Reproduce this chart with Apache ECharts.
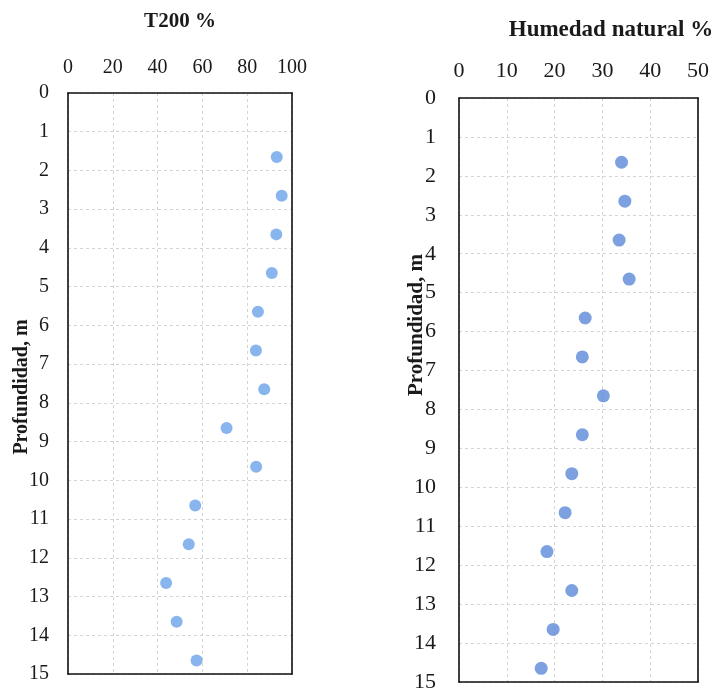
<!DOCTYPE html>
<html>
<head>
<meta charset="utf-8">
<script src="https://cdn.jsdelivr.net/npm/echarts@6/dist/echarts.min.js"></script>
<style>html,body{margin:0;padding:0;background:#fff;}#c{width:726px;height:695px;}</style>
</head>
<body>
<div id="c"></div>
<script>
const depths = [1.65, 2.65, 3.65, 4.65, 5.65, 6.65, 7.65, 8.65, 9.65, 10.65, 11.65, 12.65, 13.65, 14.65];
const t200 = [93.2, 95.4, 93.0, 91.0, 84.8, 83.9, 87.6, 70.8, 84.0, 56.8, 53.9, 43.8, 48.5, 57.4];
const humedad = [34.0, 34.7, 33.5, 35.6, 26.4, 25.8, 30.2, 25.8, 23.6, 22.2, 18.4, 23.6, 19.7, 17.2];
const titles = ["T200 %", "Humedad natural %"];
const yName = "Profundidad, m";

const serif = '"Liberation Serif", "DejaVu Serif", serif';
const split = { show: true, lineStyle: { color: '#d4d4d4', width: 1, type: [3, 3] } };
const border = { show: true, onZero: false, lineStyle: { color: '#111', width: 1.6 } };

function xAxes(gi, max, interval, fs, margin) {
  return [
    { gridIndex: gi, type: 'value', position: 'top', min: 0, max: max, interval: interval,
      axisLine: border, axisTick: { show: false },
      axisLabel: { margin: margin, fontFamily: serif, fontSize: fs, color: '#1a1a1a' },
      splitLine: split, z: 5 },
    { gridIndex: gi, type: 'value', position: 'bottom', min: 0, max: max, interval: interval,
      axisLine: border, axisTick: { show: false }, axisLabel: { show: false },
      splitLine: { show: false }, z: 5 }
  ];
}
function yAxes(gi, fs, margin) {
  return [
    { gridIndex: gi, type: 'value', position: 'left', inverse: true, min: 0, max: 15, interval: 1,
      axisLine: border, axisTick: { show: false },
      axisLabel: { margin: margin, fontFamily: serif, fontSize: fs, color: '#1a1a1a' },
      splitLine: split, z: 5 },
    { gridIndex: gi, type: 'value', position: 'right', inverse: true, min: 0, max: 15, interval: 1,
      axisLine: border, axisTick: { show: false }, axisLabel: { show: false },
      splitLine: { show: false }, z: 5 }
  ];
}

const chart = echarts.init(document.getElementById('c'), null, { renderer: 'canvas' });
chart.setOption({
  animation: false,
  backgroundColor: '#fff',
  title: [
    { text: titles[0], left: 175, top: 6, textAlign: 'center',
      textStyle: { fontFamily: serif, fontWeight: 'bold', fontSize: 21, color: '#1a1a1a' } },
    { text: titles[1], left: 606, top: 14, textAlign: 'center',
      textStyle: { fontFamily: serif, fontWeight: 'bold', fontSize: 23, color: '#1a1a1a' } }
  ],
  grid: [
    { left: 68, top: 93, width: 224, height: 581 },
    { left: 459, top: 98, width: 239, height: 584 }
  ],
  xAxis: [].concat(xAxes(0, 100, 20, 20, 15), xAxes(1, 50, 10, 22, 16)),
  yAxis: [].concat(yAxes(0, 20, 19), yAxes(1, 22, 23)),
  graphic: [
    { type: 'text', x: 22, y: 387, rotation: Math.PI / 2,
      style: { text: yName, font: 'bold 20px ' + serif, fill: '#1a1a1a', align: 'center', verticalAlign: 'middle' } },
    { type: 'text', x: 417, y: 325, rotation: Math.PI / 2,
      style: { text: yName, font: 'bold 21px ' + serif, fill: '#1a1a1a', align: 'center', verticalAlign: 'middle' } }
  ],
  series: [
    { type: 'scatter', xAxisIndex: 0, yAxisIndex: 0, symbolSize: 12, z: 10,
      itemStyle: { color: '#6ba3ea' },
      data: depths.map((d, i) => [t200[i], d]) },
    { type: 'scatter', xAxisIndex: 2, yAxisIndex: 2, symbolSize: 13, z: 10,
      itemStyle: { color: '#5b88d8' },
      data: depths.map((d, i) => [humedad[i], d]) }
  ]
});
</script>
</body>
</html>
